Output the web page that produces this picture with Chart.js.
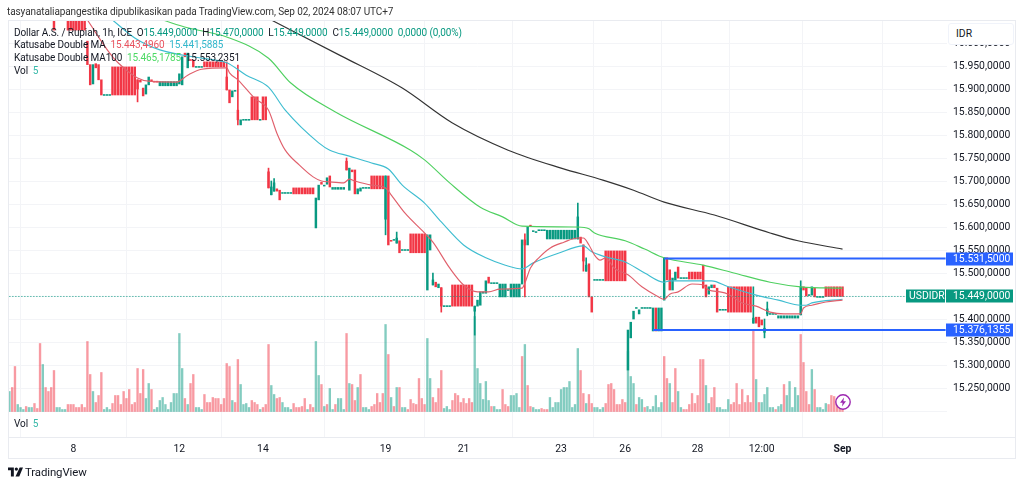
<!DOCTYPE html>
<html>
<head>
<meta charset="utf-8">
<script src="https://cdn.jsdelivr.net/npm/chart.js@4"></script>
<style>
  html, body { margin: 0; padding: 0; background: #fff; }
  #wrap { position: relative; width: 1024px; height: 485px; overflow: hidden; font-family: Roboto, "Liberation Sans", sans-serif; color: #131722; }
  canvas { position: absolute; left: 0; top: 0; }
  .t { position: absolute; white-space: pre; font-size: 10px; letter-spacing: -0.1px; line-height: 14px; }
  .up { color: #089981; } .rd { color: #e8535f; } .cy { color: #35b8cc; } .gr { color: #4cd964; } .vl { color: #35b8a8; }
  #idr { position: absolute; left: 948px; top: 23px; width: 64px; height: 20px; border: 1px solid #f0f3fa; border-radius: 3px; background: #fff; font-size: 10.4px; line-height: 20px; text-indent: 7px; }
</style>
</head>
<body>
<div id="wrap">
  <canvas id="chart" width="1024" height="485"></canvas>
  <div class="t" style="left:7px;top:5px;color:#333">tasyanataliapangestika dipublikasikan pada TradingView.com, Sep 02, 2024 08:07 UTC+7</div>
  <div class="t" style="left:14px;top:26px">Dollar A.S. / Rupiah, 1h, ICE  O<span class="up">15.449,0000</span>  H<span class="up">15.470,0000</span>  L<span class="up">15.449,0000</span>  C<span class="up">15.449,0000</span>  <span class="up">0,0000 (0,00%)</span></div>
  <div class="t" style="left:14px;top:38px">Katusabe Double MA  <span class="rd">15.443,4960</span>  <span class="cy">15.441,5885</span></div>
  <div class="t" style="left:14px;top:51px">Katusabe Double MA100  <span class="gr">15.465,1785</span>  15.553,2351</div>
  <div class="t" style="left:14px;top:64px">Vol  <span class="vl">5</span></div>
  <div class="t" style="left:14px;top:417px">Vol  <span class="vl">5</span></div>
  <div id="idr">IDR</div>
  <svg style="position:absolute;left:8px;top:467px" width="15" height="10" viewBox="0 0 36 22"><path fill="#131722" d="M14 0H0v7h7v15h7zM28 0h8L27 22h-9z"/><circle fill="#131722" cx="20" cy="4" r="4"/></svg>
  <div class="t" style="left:25px;top:465px;font-size:11.4px">TradingView</div>
  <svg style="position:absolute;left:834px;top:393px" width="18" height="18" viewBox="0 0 18 18"><circle cx="9" cy="9" r="7.2" fill="#fff" stroke="#9c27b0" stroke-width="1.4"/><path fill="#9c27b0" d="M10 4.5 6 9.7h2.6L8 13.5l4-5.2H9.4z"/></svg>
</div>
<script>
// tick labels
const timeTicks = { 23: '8', 61: '12', 91: '14', 135: '19', 163: '21', 198: '23', 221: '26', 247: '28', 270: '12:00', 299: 'Sep' };
const priceTicks = [16000, 15950, 15900, 15850, 15800, 15750, 15700, 15650, 15600, 15550, 15500, 15450, 15400, 15350, 15300, 15250, 15200];

// candles, one value per hour
const opens = [
  16100,16100,16100,16100,16100,16100,16100,16100,16100,16100,
  16100,16100,16100,16100,16100,16100,16070,16100,16100,16100,
  16100,16070,16070,16070,16070,16070,16070,16070,16004,15953,
  15911,15955,15953,15920,15886,15886,15886,15948,15948,15948,
  15948,15948,15948,15948,15948,15948,15920,15919,15902,15889,
  15909,15920,15917,15917,15907,15907,15907,15907,15907,15907,
  15907,15911,15909,15978,15946,15964,15963,15947,15947,15947,
  15959,15959,15959,15959,15959,15959,15959,15959,15926,15898,
  15883,15895,15854,15822,15832,15832,15832,15883,15883,15883,
  15832,15883,15883,15720,15670,15678,15683,15680,15673,15673,
  15673,15673,15685,15685,15685,15685,15685,15685,15685,15685,
  15598,15659,15697,15689,15693,15711,15682,15682,15682,15682,
  15682,15743,15680,15724,15724,15672,15678,15684,15684,15684,
  15711,15711,15711,15711,15711,15617,15711,15571,15571,
  15565,15570,15549,15549,15549,15585,15585,15585,15585,15585,
  15585,15463,15550,15474,15480,15468,15468,15427,15427,15427,
  15474,15474,15474,15474,15474,15474,15474,15474,15417,15428,
  15430,15456,15456,15491,15477,15477,15477,15448,15448,15448,
  15462,15448,15448,15448,15448,15476,15572,15561,15604,15590,
  15588,15592,15592,15592,15574,15574,15574,15574,15574,15574,
  15574,15574,15574,15574,15574,15574,15578,15561,15504,15520,
  15448,15484,15484,15484,15484,15548,15548,15548,15548,15548,
  15548,15548,15548,15289,15359,15400,15423,15411,15423,15423,
  15423,15423,15374,15424,15374,15374,15441,15533,15507,15463,
  15485,15513,15488,15488,15488,15502,15502,15502,15502,15502,
  15517,15474,15454,15468,15474,15467,15419,15419,15419,15470,
  15470,15470,15470,15470,15470,15470,15470,15470,15391,15404,
  15404,15398,15371,15411,15410,15410,15410,15402,15402,15402,
  15402,15402,15402,15402,15402,15409,15470,15467,15451,15452,
  15467,15447,15447,15447,15470,15470,15470,15470,15470,15470,15470
];
const closes = [
  16102,16102,16102,16102,16102,16102,16102,16102,16102,16102,
  16102,16102,16102,16102,16102,16102,16028,16102,16102,16102,
  16102,16028,16028,16028,16028,16028,16028,16028,15953,15909,
  15953,15946,15920,15887,15888,15888,15888,15887,15887,15887,
  15887,15887,15887,15887,15887,15887,15900,15915,15885,15909,
  15926,15917,15915,15915,15916,15916,15916,15916,15916,15916,
  15916,15933,15970,15970,15978,15962,15948,15949,15949,15949,
  15948,15948,15948,15948,15948,15948,15948,15948,15898,15870,
  15896,15897,15833,15833,15834,15834,15834,15833,15833,15833,
  15834,15833,15833,15685,15687,15696,15678,15659,15675,15675,
  15675,15675,15672,15672,15672,15672,15672,15672,15672,15672,
  15663,15691,15693,15691,15707,15687,15686,15686,15686,15686,
  15686,15724,15728,15720,15672,15683,15685,15686,15686,15686,
  15683,15683,15683,15683,15683,15711,15561,15569,15573,
  15576,15544,15551,15551,15551,15544,15544,15544,15544,15544,
  15544,15583,15583,15485,15470,15476,15428,15429,15429,15429,
  15428,15428,15428,15428,15428,15428,15428,15428,15428,15441,
  15459,15459,15483,15478,15479,15479,15479,15476,15476,15476,
  15464,15476,15476,15476,15476,15572,15561,15600,15602,15592,
  15590,15594,15594,15594,15593,15593,15593,15593,15593,15593,
  15593,15593,15593,15593,15593,15622,15565,15526,15517,15448,
  15415,15486,15486,15486,15486,15483,15483,15483,15483,15483,
  15483,15483,15483,15376,15393,15417,15425,15420,15425,15425,
  15425,15425,15424,15374,15424,15424,15533,15485,15463,15489,
  15502,15489,15490,15490,15490,15487,15487,15487,15487,15487,
  15467,15448,15470,15474,15468,15415,15421,15421,15421,15415,
  15415,15415,15415,15415,15415,15415,15415,15415,15402,15391,
  15383,15387,15380,15422,15412,15412,15412,15407,15407,15407,
  15407,15407,15407,15407,15407,15470,15463,15450,15453,15470,
  15448,15449,15449,15449,15449,15449,15449,15449,15449,15449,15449
];

// only the candles with a visible wick
const wickIndex = [46, 78, 82, 93, 94, 95, 121, 135, 139, 152, 155, 167, 185, 204, 206, 207, 267, 271, 272, 284];
const wickHigh = [15920, 15959, 15952, 15728, 15700, 15705, 15750, 15711, 15589, 15500, 15468, 15428, 15585, 15652, 15561, 15533, 15470, 15400, 15437, 15483];
const wickLow = [15872, 15898, 15822, 15685, 15670, 15678, 15724, 15583, 15565, 15474, 15415, 15365, 15448, 15574, 15504, 15504, 15391, 15359, 15407, 15409];

const volumes = [
  20,24,45,7,4,2,5,4,4,8,
  3,68,47,24,20,24,41,4,4,2,
  2,7,7,7,4,4,7,4,70,37,
  20,9,16,39,2,4,2,8,16,16,
  7,20,13,22,7,9,43,18,42,13,
  28,22,2,4,11,14,7,2,9,18,
  18,78,43,13,7,28,37,4,4,2,
  17,9,9,14,13,13,7,13,48,45,
  11,9,52,27,7,8,4,11,9,7,
  2,4,7,67,26,17,13,14,9,4,
  4,2,8,4,4,5,13,2,7,4,
  70,36,27,5,7,23,2,7,13,13,
  2,78,28,27,11,24,37,4,4,2,
  5,7,18,9,18,87,57,14,5,24,
  24,4,4,2,12,8,7,33,13,7,
  73,33,14,9,23,41,3,5,2,11,
  18,16,9,13,8,13,9,95,43,28,
  12,30,11,5,5,2,2,22,7,5,
  16,16,18,4,55,67,26,5,4,2,
  2,3,2,2,14,4,9,9,22,24,
  24,30,4,7,63,41,18,8,17,8,
  4,4,2,4,8,27,28,22,7,7,
  12,9,60,35,28,7,14,12,4,5,
  2,5,16,4,9,55,33,28,9,43,
  20,4,2,2,7,18,8,16,52,52,
  26,8,14,24,4,4,2,2,12,7,
  9,28,7,22,9,16,9,82,32,9,
  9,17,24,4,4,2,5,7,27,16,
  30,4,24,16,77,49,20,7,42,22,
  4,4,2,8,7,16,15,10,8,3
];
const volumeSides = (
  'grrgggrggr' + 'rrgrrrrggg' + 'grrrrrrrrr' + 'grrrgggrrr' + 'rrrrrrrrrg' +
  'grgggggggg' + 'gggrgrrggg' + 'rrrrrrrrrr' + 'grrggggrrr' + 'grrrggrrgg' +
  'ggrrrrrgrr' + 'ggrgrggrgg' + 'grgrrgrggg' + 'rrrrrgrgrg' + 'rggrrrrrrr' +
  'ggrrrrgggr' + 'rrrrrrrggg' + 'gggrgggrrr' + 'ggggrgrrgg' + 'grrrgggggg' +
  'gggggrrgrr' + 'ggggrrrrrr' + 'rrgggrggrg' + 'gggggrrgrr' + 'ggrrrrrrrr' +
  'ggrrgggggr' + 'rrrrrrrrgr' + 'gggggrggrg' + 'ggggrrrrgr' + 'ggggrrrrrr'
).split('');

// moving averages, read at the bends of each line
const redIndex = [28,36,39,46,50,60,64,69,78,79,82,88,93,96,99,104,109,112,115,120,122,124,130,135,137,142,149,152,158,163,168,172,176,184,185,187,190,194,199,204,206,208,210,212,214,217,222,227,233,235,237,240,245,249,251,255,258,263,268,273,278,284,285,288,293,299];
const redValues = [16050,15978,15957,15924,15917,15915,15930,15943,15946,15935,15920,15880,15854,15804,15767,15735,15709,15700,15698,15696,15704,15700,15691,15685,15670,15630,15587,15567,15511,15474,15459,15459,15465,15467,15478,15511,15533,15554,15567,15576,15576,15561,15539,15528,15533,15511,15496,15470,15448,15443,15454,15459,15476,15474,15463,15459,15454,15435,15428,15415,15411,15411,15424,15430,15437,15441];
const tealIndex = [37,45,54,69,78,85,93,99,111,115,122,130,136,141,149,155,163,171,178,184,188,197,206,209,214,221,228,235,237,252,258,268,276,284,286,288,299];
const tealValues = [16050,16011,15985,15967,15957,15930,15904,15854,15783,15767,15754,15739,15726,15691,15652,15611,15561,15533,15517,15509,15522,15543,15559,15546,15535,15524,15500,15480,15483,15483,15470,15452,15441,15430,15430,15435,15443];
const greenIndex = [55,64,78,93,101,117,144,149,158,169,177,184,204,208,210,221,228,235,249,260,273,284,299];
const greenValues = [16050,16033,16013,15967,15913,15850,15767,15746,15696,15643,15622,15602,15600,15596,15587,15570,15552,15533,15517,15500,15480,15470,15467];
const blackIndex = [94,119,141,159,179,198,213,224,235,253,273,283,299];
const blackValues = [16050,15972,15902,15826,15767,15728,15702,15680,15654,15626,15587,15570,15552];

const lastPrice = 15449;
const upperLevel = 15531.5;
const lowerLevel = 15376.1355;
const barCount = 337; // empty room right of the last bar

const categories = Array.from({ length: barCount }, (_, i) => String(i));
const UP = '#089981', DOWN = '#f23645', BLUE = '#2962ff';
const pairs = (idx, vals) => idx.map((x, k) => ({ x: String(x), y: vals[k] }));
const fmt = v => { const s = String(Math.round(v)); return s.slice(0, 2) + '.' + s.slice(2) + ',0000'; };
const line = (data, color, width, order) => ({ type: 'line', data, borderColor: color, borderWidth: width, pointRadius: 0, cubicInterpolationMode: 'monotone', yAxisID: 'y', order });

// borders and the price tags on the right
const frame = {
  id: 'frame',
  afterDraw(chart) {
    const c = chart.ctx, y = chart.scales.y;
    c.save();
    c.strokeStyle = '#e9ebf0';
    c.lineWidth = 1;
    c.strokeRect(8.5, 20.5, 1007, 438);
    c.beginPath(); c.moveTo(8, 437.5); c.lineTo(1016, 437.5); c.stroke();
    c.font = '10.4px Roboto';
    c.textBaseline = 'middle';
    const tag = (x, w, v, color, text, pad) => {
      const py = Math.round(y.getPixelForValue(v));
      c.fillStyle = color;
      c.fillRect(x, py - 6.5, w, 13);
      c.fillStyle = '#fff';
      c.fillText(text, x + pad, py + 0.5);
    };
    tag(906, 39, lastPrice, UP, 'USDIDR', 3);
    tag(946, 67, lastPrice, UP, '15.449,0000', 7);
    tag(946, 67, upperLevel, BLUE, '15.531,5000', 7);
    tag(946, 67, lowerLevel, BLUE, '15.376,1355', 7);
    c.restore();
  }
};

new Chart(document.getElementById('chart'), {
  data: {
    labels: categories,
    datasets: [
      line(pairs([235, 336], [upperLevel, upperLevel]), BLUE, 2, 1),
      line(pairs([231, 336], [lowerLevel, lowerLevel]), BLUE, 2, 1),
      line(pairs(redIndex, redValues), '#e0606c', 1.15, 2),
      line(pairs(tealIndex, tealValues), '#3fbdd0', 1.15, 2),
      line(pairs(greenIndex, greenValues), '#4fd060', 1.15, 2),
      line(pairs(blackIndex, blackValues), '#333333', 1.15, 2),
      Object.assign(line(pairs([0, 322], [lastPrice, lastPrice]), UP, 1, 3), { borderDash: [1, 2] }),
      {
        type: 'bar',
        data: opens.map((o, i) => [o, closes[i]]),
        backgroundColor: opens.map((o, i) => closes[i] >= o ? UP : DOWN),
        barThickness: 1.8,
        grouped: false,
        yAxisID: 'y',
        order: 4
      },
      {
        type: 'bar',
        data: wickIndex.map((x, k) => ({ x: String(x), y: [wickLow[k], wickHigh[k]] })),
        backgroundColor: wickIndex.map(i => closes[i] >= opens[i] ? UP : DOWN),
        barThickness: 1,
        grouped: false,
        yAxisID: 'y',
        order: 5
      },
      {
        type: 'bar',
        data: volumes,
        backgroundColor: volumeSides.map(s => s === 'g' ? 'rgba(8,153,129,0.5)' : 'rgba(242,54,69,0.5)'),
        barThickness: 1.7,
        grouped: false,
        yAxisID: 'vol',
        order: 6
      }
    ]
  },
  options: {
    responsive: false,
    animation: false,
    layout: { padding: { left: 8, top: 20, right: 8, bottom: 0 } },
    plugins: { legend: { display: false }, tooltip: { enabled: false } },
    scales: {
      x: {
        type: 'category',
        offset: true,
        afterBuildTicks: s => { s.ticks = Object.keys(timeTicks).map(v => ({ value: Number(v) })); },
        afterFit: s => { s.height = 48; s.paddingLeft = 0; s.paddingRight = 0; },
        grid: { color: '#f3f4f7', drawTicks: false },
        border: { display: false },
        ticks: {
          autoSkip: false,
          maxRotation: 0,
          padding: 6,
          color: '#131722',
          font: c => ({ family: 'Roboto', size: 10.4, weight: c.tick && c.tick.value === 299 ? 'bold' : 'normal' }),
          callback: v => timeTicks[v]
        }
      },
      y: {
        position: 'right',
        min: 15143.5,
        max: 16050,
        afterBuildTicks: s => { s.ticks = priceTicks.map(v => ({ value: v })); },
        afterFit: s => { s.width = 69; s.paddingTop = 0; s.paddingBottom = 0; },
        grid: { color: '#f3f4f7', drawTicks: false },
        border: { display: false },
        ticks: {
          padding: 6,
          color: '#131722',
          font: { family: 'Roboto', size: 10.4 },
          callback: v => v === 15200 ? '' : fmt(v)
        }
      },
      vol: { display: false, min: -25.5, max: 391.5 }
    }
  },
  plugins: [frame]
});
</script>
</body>
</html>
